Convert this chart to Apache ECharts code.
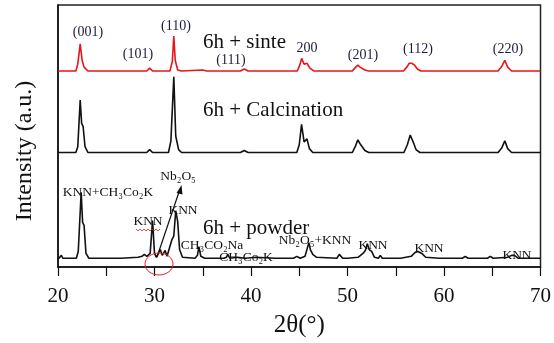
<!DOCTYPE html>
<html>
<head>
<meta charset="utf-8">
<script src="https://cdn.jsdelivr.net/npm/echarts@6/dist/echarts.min.js"></script>
<style>
  html, body { margin: 0; padding: 0; background: #fff; }
  #chart { width: 554px; height: 343px; }
</style>
</head>
<body>
<div id="chart"></div>
<script>
// 2θ (deg) and intensity above each trace's own baseline (a.u.)
const sinter = [
  [20, 0], [21.85, 0], [22.05, 7], [22.3, 28], [22.5, 11], [22.7, 4], [23.1, 0],
  [29.2, 0], [29.5, 3], [29.8, 0],
  [31.6, 0], [31.85, 10], [32.0, 36], [32.15, 11], [32.4, 1], [32.8, 0],
  [35.0, 1], [35.4, 0], [38.9, 0], [39.3, 2], [39.7, 0],
  [44.8, 0], [45.05, 6], [45.25, 13], [45.5, 7], [45.8, 8], [46.1, 3], [46.5, 0],
  [50.5, 0], [50.85, 4], [51.07, 6], [51.3, 4], [51.5, 5], [51.8, 1], [52.2, 0],
  [55.8, 0], [56.15, 4], [56.4, 8], [56.65, 8], [56.95, 6], [57.25, 2], [57.6, 0],
  [65.6, 0], [66.0, 5], [66.3, 11], [66.6, 4], [67.0, 0],
  [70, 0]
]
const calcination = [
  [20, 0], [21.85, 0], [22.05, 6], [22.3, 54], [22.45, 30], [22.6, 27], [22.8, 6], [23.1, 0],
  [29.2, 0], [29.5, 3], [29.8, 0],
  [31.45, 0], [31.7, 12], [32.0, 78], [32.2, 17], [32.5, 3], [32.8, 0],
  [38.9, 0], [39.3, 2], [39.7, 0],
  [44.75, 0], [45.0, 8], [45.24, 29], [45.5, 11], [45.8, 14], [46.05, 4], [46.4, 0],
  [50.5, 0], [50.8, 6], [51.07, 13], [51.3, 9], [51.5, 9], [51.8, 2], [52.2, 0],
  [55.85, 0], [56.2, 8], [56.5, 18], [56.8, 11], [57.1, 3], [57.5, 0],
  [65.6, 0], [66.0, 5], [66.3, 12], [66.6, 4], [67.0, 0],
  [70, 0]
]
const powder = [
  [20, 0], [20.2, 1], [20.35, 4], [20.5, 1], [21.9, 1], [22.1, 8], [22.4, 69], [22.55, 38],
  [22.7, 35], [22.9, 6], [23.2, 1], [26.5, 1], [28.3, 2],
  [28.7, 3], [28.95, 5], [29.2, 3], [29.55, 6], [29.8, 40], [30.0, 6], [30.2, 2],
  [30.45, 7], [30.6, 10], [30.8, 4], [31.0, 5], [31.1, 9], [31.3, 3], [31.5, 3],
  [31.8, 20], [32.0, 24], [32.2, 50], [32.4, 39], [32.6, 10], [32.9, 2], [34.2, 1],
  [34.45, 4], [34.6, 13], [34.8, 3], [35.2, 1], [36.8, 1], [37.0, 2], [37.2, 1],
  [37.45, 2], [37.6, 5], [37.8, 1], [38.6, 2], [39.4, 1], [40.5, 2], [42.5, 1],
  [44.4, 1], [44.75, 3], [45.1, 1], [45.6, 3], [45.85, 12], [46.0, 17], [46.15, 10],
  [46.4, 5], [46.8, 2], [48.9, 1], [49.15, 5], [49.3, 6], [49.5, 1], [50.0, 1],
  [51.1, 2], [51.6, 6], [51.85, 9], [52.05, 16], [52.25, 10], [52.5, 8], [52.8, 2],
  [53.2, 1], [53.4, 4], [53.6, 1], [55.5, 1], [56.6, 3], [57.0, 7], [57.3, 8],
  [57.45, 10], [57.7, 6], [58.1, 2], [59.5, 1], [61.9, 1], [62.2, 3], [62.5, 1],
  [64.5, 1], [64.8, 3], [65.1, 1], [66.6, 2], [67.0, 4], [67.3, 4], [67.7, 1], [70, 1]
]
// vertical stacking offsets for the three patterns
const offsets = { sinter: 202, calcination: 118, powder: 8 }
const xTicks = [20, 30, 40, 50, 60, 70]

const serif = '"Liberation Serif", "DejaVu Serif", serif'

function shift(data, off) {
  return data.map(p => [p[0], p[1] + off])
}

function label(text, x, y, size, color, align) {
  return {
    type: 'text',
    x: x,
    y: y,
    style: {
      text: text,
      font: (size || 13) + 'px ' + serif,
      fill: color || '#111',
      align: align || 'center',
      verticalAlign: 'middle'
    },
    z: 10
  }
}

const chart = echarts.init(document.getElementById('chart'))

const option = {
  animation: false,
  backgroundColor: '#fff',
  grid: {
    left: 58, right: 12, top: 5, bottom: 68,
    show: true, borderColor: '#222', borderWidth: 1.5
  },
  xAxis: {
    type: 'value',
    min: 20, max: 70, interval: 10,
    name: '2θ(°)',
    nameLocation: 'middle',
    nameGap: 46,
    nameTextStyle: { fontFamily: serif, fontSize: 25, color: '#111' },
    axisLine: { show: true, lineStyle: { color: '#111', width: 1.5 } },
    axisTick: { show: true, inside: false, length: 9, lineStyle: { color: '#111', width: 1.2 } },
    minorTick: { show: true, splitNumber: 2, length: 9, lineStyle: { color: '#111', width: 1.2 } },
    axisLabel: {
      fontFamily: serif, fontSize: 21, color: '#111', margin: 19,
      formatter: v => xTicks.includes(v) ? String(v) : ''
    },
    splitLine: { show: false }
  },
  yAxis: {
    type: 'value',
    min: 0, max: 270,
    axisLine: { show: true, lineStyle: { color: '#111', width: 1.5 } },
    axisTick: { show: false },
    axisLabel: { show: false },
    splitLine: { show: false }
  },
  series: [
    {
      name: '6h + sinte', type: 'line', showSymbol: false,
      data: shift(sinter, offsets.sinter),
      lineStyle: { color: '#e8141a', width: 1.6 }
    },
    {
      name: '6h + Calcination', type: 'line', showSymbol: false,
      data: shift(calcination, offsets.calcination),
      lineStyle: { color: '#111', width: 1.6 }
    },
    {
      name: '6h + powder', type: 'line', showSymbol: false,
      data: shift(powder, offsets.powder),
      lineStyle: { color: '#111', width: 1.6 }
    }
  ],
  graphic: [
    // y axis title
    {
      type: 'text', x: 25, y: 151, rotation: Math.PI / 2, z: 10,
      style: {
        text: 'Intensity (a.u.)', font: '24px ' + serif, fill: '#111',
        align: 'center', verticalAlign: 'middle'
      }
    },
    // sinter peak indices
    label('(001)', 88, 32, 14, '#1c1c3c'),
    label('(101)', 138, 54, 14, '#1c1c3c'),
    label('(110)', 176, 26, 14, '#1c1c3c'),
    label('(111)', 231, 60, 14, '#1c1c3c'),
    label('200', 307, 48, 14, '#1c1c3c'),
    label('(201)', 363, 55, 14, '#1c1c3c'),
    label('(112)', 418, 49, 14, '#1c1c3c'),
    label('(220)', 508, 49, 14, '#1c1c3c'),
    // trace names
    label('6h + sinte', 203, 42, 21, '#111', 'left'),
    label('6h + Calcination', 203, 110, 21, '#111', 'left'),
    label('6h + powder', 203, 228, 21, '#111', 'left'),
    // phase labels on the powder trace
    label('KNN+CH₃Co₂K', 108, 192, 13.5),
    label('Nb₂O₅', 178, 176, 13.5),
    label('KNN', 148, 221, 13.5),
    label('KNN', 183, 210, 13.5),
    label('CH₃CO₂Na', 212, 245, 13.5),
    label('CH₃Co₂K', 246, 257, 13.5),
    label('Nb₂O₅+KNN', 315, 240, 13.5),
    label('KNN', 373, 245, 13.5),
    label('KNN', 429, 248, 13.5),
    label('KNN', 517, 255, 13.5),
    {
      type: 'polyline', z: 9,
      shape: { points: [[136, 229], [138, 231], [140, 229], [142, 231], [144, 229], [146, 231], [148, 229], [150, 231], [152, 229], [154, 231], [156, 229], [158, 231], [160, 229]] },
      style: { stroke: '#e02020', lineWidth: 0.8, fill: null }
    },
    {
      type: 'line', z: 9,
      shape: { x1: 157, y1: 257, x2: 179, y2: 192 },
      style: { stroke: '#111', lineWidth: 1.2 }
    },
    {
      type: 'polygon', z: 9,
      shape: { points: [[181.5, 185], [176.5, 193], [182.5, 194.5]] },
      style: { fill: '#111' }
    },
    {
      type: 'ellipse', z: 9,
      shape: { cx: 159, cy: 264, rx: 14, ry: 11 },
      style: { stroke: '#e02020', lineWidth: 1, fill: null }
    }
  ]
}

chart.setOption(option)
</script>
</body>
</html>
